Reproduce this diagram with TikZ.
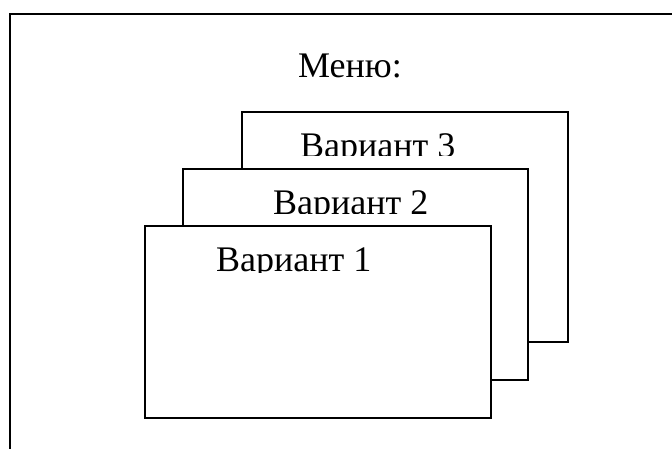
\documentclass[tikz,border=0pt]{standalone}
\usepackage{fontspec}
\setmainfont{Liberation Serif}
\begin{document}
\begin{tikzpicture}[x=1pt,y=-1pt,
  card/.style={draw=black,fill=white,line width=1.5pt,inner sep=0pt,anchor=north west},
  label/.style={anchor=base west,inner sep=0pt,font=\fontsize{36}{40}\selectfont}]
\useasboundingbox (0,0) rectangle (672,448);
\clip (0,0) rectangle (672,448);
% outer frame, running off the page to the right and bottom
\draw[line width=2pt] (10,14) rectangle (700,480);
\node[label] (menu) at (298,77) {Меню:};
% back card
\node[card,minimum width=326pt,minimum height=230pt] (c3) at (241,111) {};
\begin{scope}
  \clip (241,111) rectangle (566,155);
  \node[label] (t3) at (300,157) {Вариант 3};
\end{scope}
% middle card
\node[card,minimum width=345pt,minimum height=211pt] (c2) at (182,168) {};
\begin{scope}
  \clip (182,168) rectangle (527,213);
  \node[label] (t2) at (273,214) {Вариант 2};
\end{scope}
% front card
\node[card,minimum width=346pt,minimum height=192pt] (c1) at (144,225) {};
\begin{scope}
  \clip (144,225) rectangle (490,272);
  \node[label] (t1) at (216,271) {Вариант 1};
\end{scope}
\end{tikzpicture}
\end{document}
